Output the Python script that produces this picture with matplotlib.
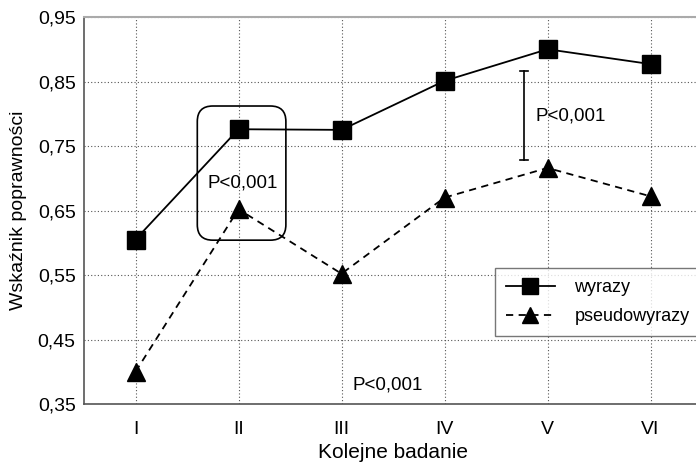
import matplotlib
matplotlib.use("Agg")
import matplotlib.pyplot as plt
from matplotlib.patches import FancyBboxPatch

plt.rcParams['font.family'] = ['Liberation Sans', 'DejaVu Sans']

categories = ['I', 'II', 'III', 'IV', 'V', 'VI']
wyrazy = [0.605, 0.776, 0.775, 0.851, 0.900, 0.877]
pseudowyrazy = [0.400, 0.652, 0.552, 0.670, 0.716, 0.672]
yticks = [0.35, 0.45, 0.55, 0.65, 0.75, 0.85, 0.95]
ytick_labels = ['0,35', '0,45', '0,55', '0,65', '0,75', '0,85', '0,95']
p_label = 'P<0,001'

W, H = 696, 468
fig = plt.figure(figsize=(W / 100, H / 100), dpi=100)
left, right, top, bottom = 84, 702, 17, 404
ax = fig.add_axes([left / W, 1 - bottom / H, (right - left) / W, (bottom - top) / H])

x = list(range(1, len(categories) + 1))
ax.plot(x, wyrazy, color='black', lw=1.3, marker='s', ms=13, mfc='black', mec='black',
        label='wyrazy', zorder=4)
ax.plot(x, pseudowyrazy, color='black', lw=1.3, ls=(0, (4, 3)), marker='^', ms=13,
        mfc='black', mec='black', label='pseudowyrazy', zorder=4)

ax.set_xlim(0.5, 6.5)
ax.set_ylim(0.35, 0.95)
ax.set_xticks(x)
ax.set_xticklabels(categories)
ax.set_yticks(yticks)
ax.set_yticklabels(ytick_labels)
ax.tick_params(length=0, labelsize=14, pad=12)
ax.tick_params(axis='y', pad=6)
ax.grid(True, color='#555555', ls=(0, (1, 2)), lw=0.8)
ax.set_axisbelow(True)
for s in ['left', 'bottom']:
    ax.spines[s].set_color('#555555')
    ax.spines[s].set_linewidth(1.2)
ax.spines['top'].set_color('#aaaaaa')
ax.spines['top'].set_linewidth(1.5)
ax.spines['right'].set_visible(False)

ax.set_ylabel('Wskaźnik poprawności', fontsize=14, labelpad=8)
ax.set_xlabel('Kolejne badanie', fontsize=15, labelpad=4)

# rounded box around II
box = FancyBboxPatch((1.60, 0.604), 0.86, 0.208,
                     boxstyle='round,pad=0,rounding_size=0.15',
                     fc='none', ec='black', lw=1.2, zorder=3,
                     mutation_aspect=0.6 / 387 * 103)
ax.add_patch(box)
ax.text(2.04, 0.692, p_label, fontsize=13.5, ha='center', va='center', zorder=5)

# bracket near V
bx = 4.77
ax.plot([bx, bx], [0.728, 0.867], color='black', lw=1.2, zorder=3)
for yv in [0.728, 0.867]:
    ax.plot([bx - 0.04, bx + 0.04], [yv, yv], color='black', lw=1.2, zorder=3)
ax.text(4.88, 0.797, p_label, fontsize=13.5, ha='left', va='center')

ax.text(3.45, 0.380, p_label, fontsize=13.5, ha='center', va='center')

leg = ax.legend(loc='upper left', bbox_to_anchor=((495 - left) / (right - left), 1 - (268 - top) / (bottom - top)),
                fontsize=13, frameon=True, fancybox=False, edgecolor='#555555',
                handlelength=2.7, borderpad=0.6, labelspacing=0.7, handletextpad=1.1,
                borderaxespad=0)
leg.get_frame().set_linewidth(1.0)
for h in leg.legend_handles:
    h.set_markersize(12)

fig.savefig('out.png', dpi=100)
